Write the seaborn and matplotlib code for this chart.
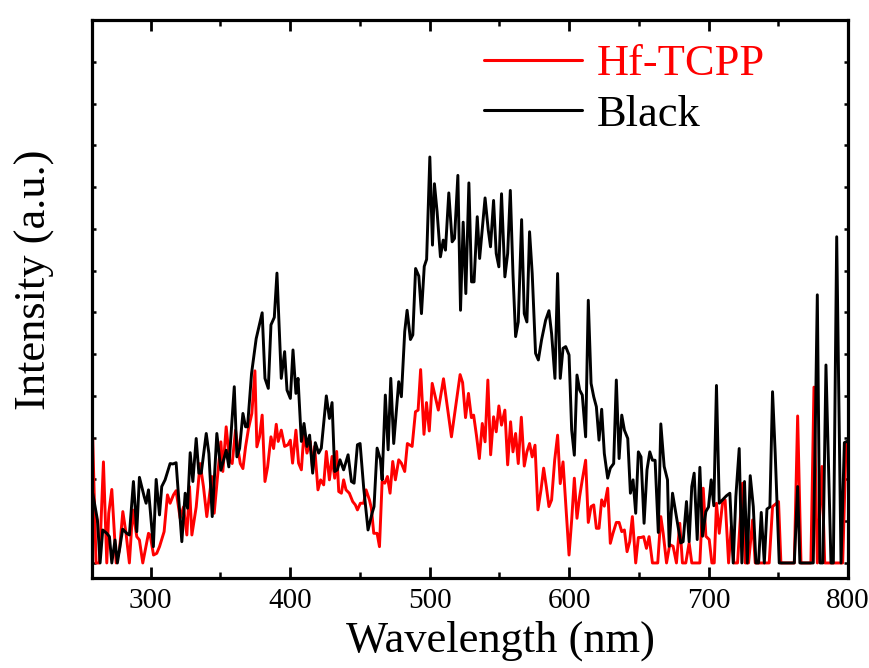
import matplotlib
matplotlib.use("Agg")
import matplotlib.pyplot as plt
import seaborn as sns
import pandas as pd
from matplotlib.ticker import MultipleLocator, NullFormatter

# ---------------- data ----------------
black_wl = [258.5, 261.9, 263.8, 265.7, 268.6, 270.5, 272.2, 274.5, 276.2, 280.0,
            282.9, 284.8, 287.7, 290.1, 292.0, 295.4, 296.8, 298.5, 302.0, 304.0,
            306.4, 308.0, 310.4, 314.0, 316.0, 318.3, 322.4, 324.8, 326.5, 328.4,
            330.3, 332.7, 334.6, 336.3, 339.9, 341.8, 344.2, 347.5, 350.4, 354.2,
            356.1, 360.0, 361.9, 363.8, 366.2, 368.1, 369.5, 372.4, 375.7, 380.0,
            382.0, 384.4, 386.3, 388.7, 390.6, 393.7, 396.1, 397.8, 400.2, 402.1,
            404.2, 405.7, 408.1, 410.0, 412.1, 414.0, 416.2, 418.1, 420.5, 422.4,
            426.0, 428.2, 430.1, 432.0, 433.9, 435.8, 438.4, 441.6, 444.0, 445.9,
            448.3, 450.2, 452.8, 455.9, 458.8, 460.2, 462.4, 464.8, 466.0, 468.3,
            470.3, 472.2, 474.3, 477.9, 479.8, 482.2, 483.9, 486.3, 488.0, 490.0,
            492.3, 494.2, 496.2, 497.9, 500.2, 502.1, 503.5, 505.4, 507.8, 509.8,
            511.4, 513.8, 516.2, 517.9, 520.3, 522.2, 524.1, 526.0, 528.2, 530.1,
            531.9, 534.2, 535.9, 539.8, 542.1, 543.7, 545.9, 547.8, 549.7, 551.6,
            554.0, 556.0, 557.9, 559.8, 561.7, 563.6, 566.0, 567.9, 569.8, 571.7,
            573.6, 576.0, 578.0, 580.3, 583.2, 585.6, 587.5, 589.9, 591.8, 593.7,
            595.7, 597.6, 600.0, 601.9, 603.8, 605.7, 607.6, 609.5, 611.9, 613.8,
            615.8, 617.7, 619.6, 621.5, 623.4, 625.3, 627.7, 629.6, 632.0, 633.9,
            635.9, 637.8, 639.7, 642.1, 644.0, 645.9, 647.8, 649.7, 651.6, 653.8,
            655.9, 657.9, 659.8, 661.7, 664.0, 665.8, 668.2, 670.6, 671.8, 674.2,
            677.0, 680.1, 681.8, 684.2, 686.1, 688.0, 689.7, 691.9, 693.8, 695.7,
            698.1, 700.0, 701.9, 703.8, 705.7, 707.7, 710.0, 712.9, 715.3, 717.7,
            719.6, 722.0, 723.9, 725.8, 727.8, 729.9, 732.1, 734.0, 735.9, 737.8,
            740.0, 741.9, 744.0, 745.9, 747.8, 750.7, 761.5, 763.9, 765.5, 775.1,
            778.0, 779.9, 782.0, 784.2, 787.8, 789.5, 791.9, 795.0, 797.4, 799.1]
black_int = [16.7, 10.3, 0.0, 7.9, 7.1, 6.3, 0.0, 5.5, 0.0, 8.1,
             7.1, 6.7, 19.5, 7.5, 20.5, 15.9, 14.3, 17.5, 3.9, 20.0,
             11.5, 18.3, 19.9, 23.8, 23.7, 24.0, 5.1, 16.7, 13.1, 26.4,
             19.5, 29.8, 21.5, 21.5, 31.0, 26.2, 11.1, 31.0, 22.2, 27.0,
             23.0, 42.2, 25.4, 27.4, 35.8, 32.6, 32.6, 45.4, 53.7, 59.9,
             44.2, 41.8, 57.0, 58.8, 69.4, 44.2, 50.6, 41.4, 39.4, 51.0,
             40.6, 44.2, 29.1, 33.4, 27.9, 30.6, 21.5, 28.8, 26.3, 27.5,
             40.0, 34.6, 38.4, 21.9, 22.3, 24.7, 22.3, 25.9, 19.5, 19.1,
             28.3, 28.6, 17.9, 7.9, 11.9, 13.5, 27.5, 24.7, 19.9, 40.2,
             27.1, 44.2, 28.6, 43.4, 39.8, 55.4, 60.5, 53.5, 54.6, 70.5,
             68.7, 59.7, 71.0, 72.7, 97.2, 76.1, 90.8, 84.1, 73.3, 77.3,
             74.9, 88.6, 76.9, 77.7, 92.8, 60.5, 81.6, 64.5, 91.0, 67.3,
             67.3, 82.9, 72.9, 87.4, 79.7, 75.7, 86.8, 74.1, 70.9, 88.4,
             68.5, 74.1, 89.2, 69.3, 54.2, 57.7, 82.2, 59.7, 57.7, 79.3,
             69.3, 50.2, 48.6, 53.4, 58.1, 60.4, 54.9, 44.2, 69.3, 44.2,
             51.4, 51.8, 49.8, 31.8, 25.8, 45.0, 41.4, 40.2, 30.2, 62.9,
             43.0, 39.8, 37.4, 29.4, 36.8, 26.2, 20.3, 22.7, 23.8, 43.8,
             25.0, 35.4, 31.8, 29.8, 16.7, 19.9, 11.9, 26.6, 25.4, 9.5,
             22.3, 26.6, 24.6, 24.6, 7.3, 33.3, 23.1, 19.9, 4.0, 16.7,
             11.1, 4.8, 5.1, 14.7, 5.1, 18.3, 21.5, 5.6, 22.9, 6.4,
             12.3, 13.4, 19.9, 13.7, 42.5, 14.3, 15.1, 16.1, 16.7, 0.0,
             15.9, 27.4, 0.0, 19.5, 0.0, 20.9, 13.5, 0.0, 0.0, 12.1,
             0.0, 12.9, 13.4, 41.0, 26.3, 0.0, 0.0, 18.3, 0.0, 0.0,
             64.2, 0.0, 0.0, 47.4, 0.0, 0.0, 78.1, 0.0, 28.8, 29.1]

red_wl = [258.5, 260.9, 263.3, 266.2, 268.6, 270.0, 272.2, 275.3, 277.7, 280.1,
          282.4, 284.8, 287.2, 290.1, 292.0, 294.4, 298.5, 299.7, 302.1, 304.4,
          306.4, 309.7, 312.1, 314.0, 316.4, 318.3, 321.2, 323.6, 326.0, 327.9,
          329.6, 332.7, 335.5, 337.9, 340.3, 343.9, 345.6, 348.0, 350.4, 351.8,
          354.2, 356.6, 358.5, 360.9, 362.8, 364.3, 366.2, 368.1, 370.2, 372.6,
          374.8, 376.2, 378.1, 380.0, 382.0, 383.9, 386.3, 388.2, 390.1, 391.5,
          393.7, 396.1, 398.5, 400.2, 401.8, 404.2, 406.1, 408.1, 410.0, 412.1,
          414.5, 416.2, 417.6, 420.0, 421.9, 424.1, 426.0, 428.2, 430.1, 432.0,
          433.4, 434.9, 436.8, 438.4, 440.1, 442.5, 444.9, 446.8, 448.3, 450.4,
          452.8, 454.5, 456.9, 458.3, 460.0, 462.4, 464.1, 466.0, 467.9, 469.8,
          471.7, 473.6, 475.5, 477.9, 479.8, 482.2, 484.1, 487.5, 489.9, 491.8,
          493.6, 496.0, 497.8, 499.8, 501.9, 506.3, 510.0, 515.7, 519.0, 521.9,
          523.7, 525.8, 527.9, 530.0, 531.6, 533.6, 535.7, 537.8, 539.8, 541.8,
          543.8, 545.9, 547.8, 549.7, 551.6, 554.0, 556.0, 558.1, 559.8, 561.7,
          563.6, 565.8, 567.9, 569.8, 571.7, 573.6, 575.6, 577.7, 579.9, 581.8,
          583.7, 585.6, 587.5, 589.7, 591.8, 593.7, 595.7, 597.6, 600.0, 601.9,
          603.8, 605.7, 607.6, 609.5, 611.9, 613.8, 615.8, 617.7, 619.6, 621.5,
          623.4, 625.3, 627.7, 629.6, 631.5, 633.9, 635.9, 637.8, 639.7, 641.6,
          643.5, 645.4, 647.8, 649.7, 651.6, 653.5, 655.5, 657.4, 659.8, 663.6,
          665.8, 667.5, 669.9, 672.2, 674.6, 677.0, 679.4, 681.3, 683.7, 686.1,
          688.0, 693.8, 696.2, 698.1, 700.5, 702.4, 704.1, 705.7, 707.7, 710.0,
          711.9, 714.4, 716.3, 718.2, 720.8, 724.4, 726.3, 728.7, 731.6, 733.5,
          743.5, 745.9, 750.2, 751.9, 761.5, 763.9, 766.3, 773.4, 775.6, 778.0,
          781.3, 783.3, 796.2, 798.6, 799.8]
red_int = [29.9, 0.0, 0.0, 24.2, 0.0, 11.9, 17.6, 0.0, 3.1, 12.3,
           7.1, 0.0, 12.7, 6.3, 5.5, 0.0, 7.1, 6.7, 1.9, 2.3,
           3.9, 7.5, 16.3, 14.3, 16.3, 17.3, 10.7, 13.4, 6.7, 18.3,
           6.7, 13.4, 23.8, 18.3, 11.1, 20.7, 11.9, 20.7, 29.0, 21.9,
           32.6, 24.6, 23.8, 31.8, 27.0, 23.8, 22.6, 27.8, 32.2, 35.8,
           46.0, 27.8, 30.2, 35.4, 19.5, 23.0, 30.2, 27.4, 33.2, 29.1,
           31.8, 27.9, 28.3, 29.4, 23.9, 31.8, 23.9, 22.3, 31.4, 26.3,
           29.1, 22.3, 27.9, 17.5, 19.9, 18.7, 26.7, 19.9, 25.5, 20.3,
           26.7, 17.1, 16.7, 19.9, 17.5, 16.7, 14.7, 13.9, 12.7, 14.3,
           14.3, 17.5, 15.1, 13.1, 7.1, 7.1, 3.9, 19.5, 19.1, 20.7,
           16.7, 24.3, 19.9, 24.7, 23.9, 21.9, 28.6, 27.9, 36.2, 36.6,
           46.3, 30.8, 38.4, 31.6, 43.0, 36.6, 44.1, 30.2, 38.2, 45.1,
           43.2, 34.8, 40.6, 34.8, 35.4, 30.6, 25.0, 33.4, 29.0, 43.8,
           25.9, 35.0, 31.4, 37.6, 33.0, 36.6, 23.5, 33.8, 26.6, 31.0,
           23.8, 34.9, 23.2, 26.6, 28.6, 25.4, 28.2, 12.7, 17.5, 22.7,
           18.3, 13.5, 15.1, 24.6, 30.6, 19.0, 24.2, 14.3, 1.9, 10.3,
           20.3, 10.7, 15.9, 19.9, 24.6, 9.7, 13.5, 13.9, 8.3, 8.3,
           15.1, 13.6, 17.9, 4.7, 7.1, 9.7, 9.7, 7.5, 7.9, 2.7,
           5.1, 11.1, 0.0, 6.1, 6.1, 6.3, 3.5, 6.3, 0.0, 0.0,
           11.1, 7.1, 0.0, 4.4, 4.0, 0.0, 9.5, 0.0, 0.0, 4.8,
           0.0, 0.0, 17.9, 6.4, 5.6, 0.0, 0.0, 14.3, 7.1, 14.3,
           15.1, 0.0, 8.7, 0.0, 0.0, 19.1, 0.0, 0.0, 10.3, 0.0,
           0.0, 13.5, 14.7, 0.0, 0.0, 35.2, 0.0, 0.0, 42.1, 0.0,
           23.1, 0.0, 0.0, 28.5, 28.5]

labels = ["Hf-TCPP", "Black"]
x_ticks = [300, 400, 500, 600, 700, 800]

# ---------------- plotting ----------------
sns.set_style("ticks")
plt.rcParams["font.family"] = ["Liberation Serif", "DejaVu Serif"]
plt.rcParams["text.color"] = "black"
plt.rcParams["axes.labelcolor"] = "black"
plt.rcParams["xtick.color"] = "black"
plt.rcParams["ytick.color"] = "black"

fig = plt.figure(figsize=(8.70, 6.68), dpi=100)
ax = fig.add_axes([92 / 870, 1 - 578 / 668, (848 - 92) / 870, (578 - 20) / 668])

df_red = pd.DataFrame({"Wavelength": red_wl, "Intensity": red_int})
df_blk = pd.DataFrame({"Wavelength": black_wl, "Intensity": black_int})

sns.lineplot(data=df_red, x="Wavelength", y="Intensity", ax=ax, color="#ff0000",
             linewidth=2.1, estimator=None, sort=False, label=labels[0])
sns.lineplot(data=df_blk, x="Wavelength", y="Intensity", ax=ax, color="black",
             linewidth=2.1, estimator=None, sort=False, label=labels[1])

ax.set_xlim(258, 800)
ax.set_ylim(-3.6, 130)
ax.set_xticks(x_ticks)
ax.xaxis.set_minor_locator(MultipleLocator(50))
ax.yaxis.set_major_locator(MultipleLocator(10))
ax.yaxis.set_major_formatter(NullFormatter())

for s in ax.spines.values():
    s.set_linewidth(2.3)
    s.set_color("black")

ax.tick_params(axis="x", which="major", direction="in", length=8, width=2,
               top=True, bottom=True, labelsize=21, pad=7, colors="black")
ax.tick_params(axis="x", which="minor", direction="in", length=4.5, width=1.8,
               top=True, bottom=True, colors="black")
ax.tick_params(axis="y", which="major", direction="in", length=3, width=1.8,
               left=True, right=True, colors="black")

ax.set_xlabel("Wavelength (nm)", fontsize=32, color="black")
ax.set_ylabel("Intensity (a.u.)", fontsize=32, color="black")
ax.xaxis.set_label_coords((501 - 92) / 756, (578 - 621) / 558)
ax.yaxis.set_label_coords((55 - 92) / 756, (578 - 280) / 558)

leg = ax.legend(loc="upper left", bbox_to_anchor=(484 / 870, 1 - 44 / 668),
                bbox_transform=fig.transFigure, frameon=False, fontsize=32,
                handlelength=2.2, handletextpad=0.34, borderpad=0,
                borderaxespad=0, labelspacing=0.24)
for line in leg.get_lines():
    line.set_linewidth(2.2)
leg.get_texts()[0].set_color("#ff0000")
leg.get_texts()[1].set_color("black")

fig.savefig("out.png", dpi=100)
